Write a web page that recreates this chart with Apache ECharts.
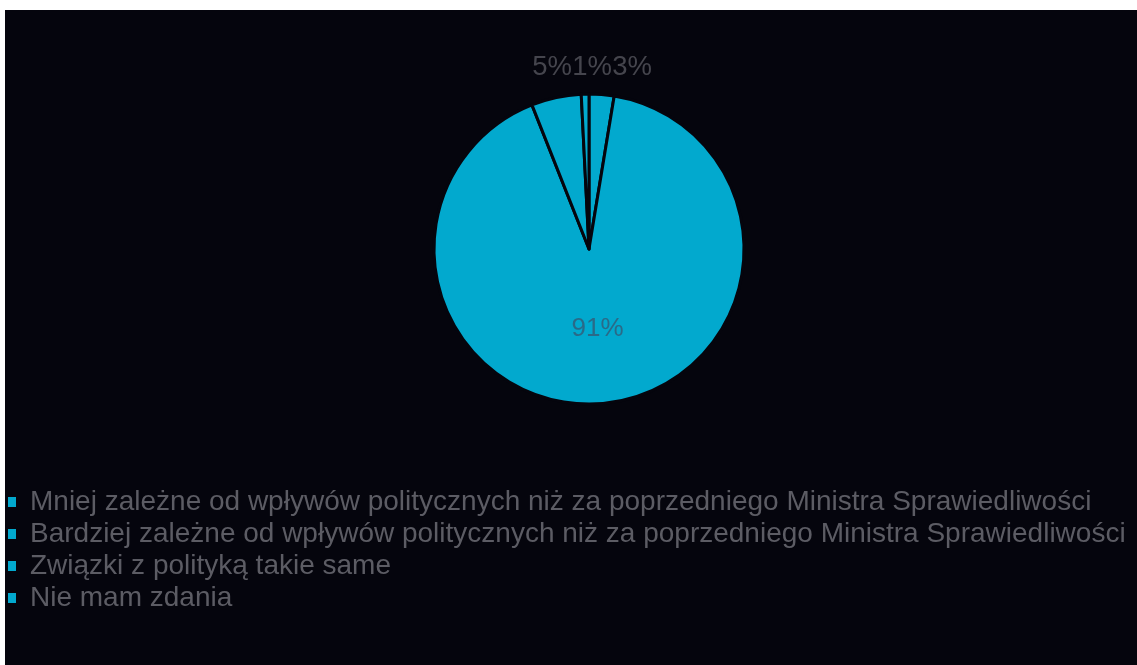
<!DOCTYPE html>
<html>
<head>
<meta charset="utf-8">
<script src="https://cdn.jsdelivr.net/npm/echarts@6/dist/echarts.min.js"></script>
<style>
html,body{margin:0;padding:0;background:#ffffff;}
#chart{position:absolute;left:5px;top:10px;width:1132px;height:655px;}
</style>
</head>
<body>
<div id="chart"></div>
<script>
const categories = [
  "Mniej zależne od wpływów politycznych niż za poprzedniego Ministra Sprawiedliwości",
  "Bardziej zależne od wpływów politycznych niż za poprzedniego Ministra Sprawiedliwości",
  "Związki z polityką takie same",
  "Nie mam zdania"
];
const values = [2.6, 91.4, 5.2, 0.8];
// horizontal order of the small-slice labels above the pie (left to right)
const topLabelOrder = [2, 3, 0];

const bg = '#05050d';
const cyan = '#02a9ce';
const chart = echarts.init(document.getElementById('chart'));
const cx = 584, cy = 239;
const font = 'Liberation Sans, Arial, sans-serif';

chart.setOption({
  backgroundColor: bg,
  animation: false,
  legend: {
    orient: 'vertical',
    left: 1,
    top: 478,
    padding: 0,
    itemWidth: 10,
    itemHeight: 12,
    itemGap: 4,
    icon: 'rect',
    textStyle: {
      color: '#5c5c64',
      fontSize: 28,
      fontFamily: font,
      padding: [0, 0, 0, 8]
    },
    data: categories
  },
  series: [{
    type: 'pie',
    center: [cx, cy],
    radius: 155,
    startAngle: 90,
    clockwise: true,
    percentPrecision: 0,
    avoidLabelOverlap: false,
    itemStyle: { color: cyan, borderColor: bg, borderWidth: 3 },
    label: {
      show: true,
      position: 'outside',
      formatter: '{d}%',
      fontSize: 27.5,
      fontFamily: font,
      color: '#45454d'
    },
    labelLine: { show: false },
    labelLayout: function (p) {
      const k = topLabelOrder.indexOf(p.dataIndex);
      if (k < 0) return {};
      return { x: cx + 3 + (k - 1) * 40, y: 57, align: 'center', verticalAlign: 'middle' };
    },
    emphasis: { disabled: true },
    data: categories.map((c, i) => ({
      name: c,
      value: values[i],
      label: i === 1 ? { position: 'inside', color: '#2a6a88', fontSize: 26 } : undefined
    }))
  }]
});
</script>
</body>
</html>
